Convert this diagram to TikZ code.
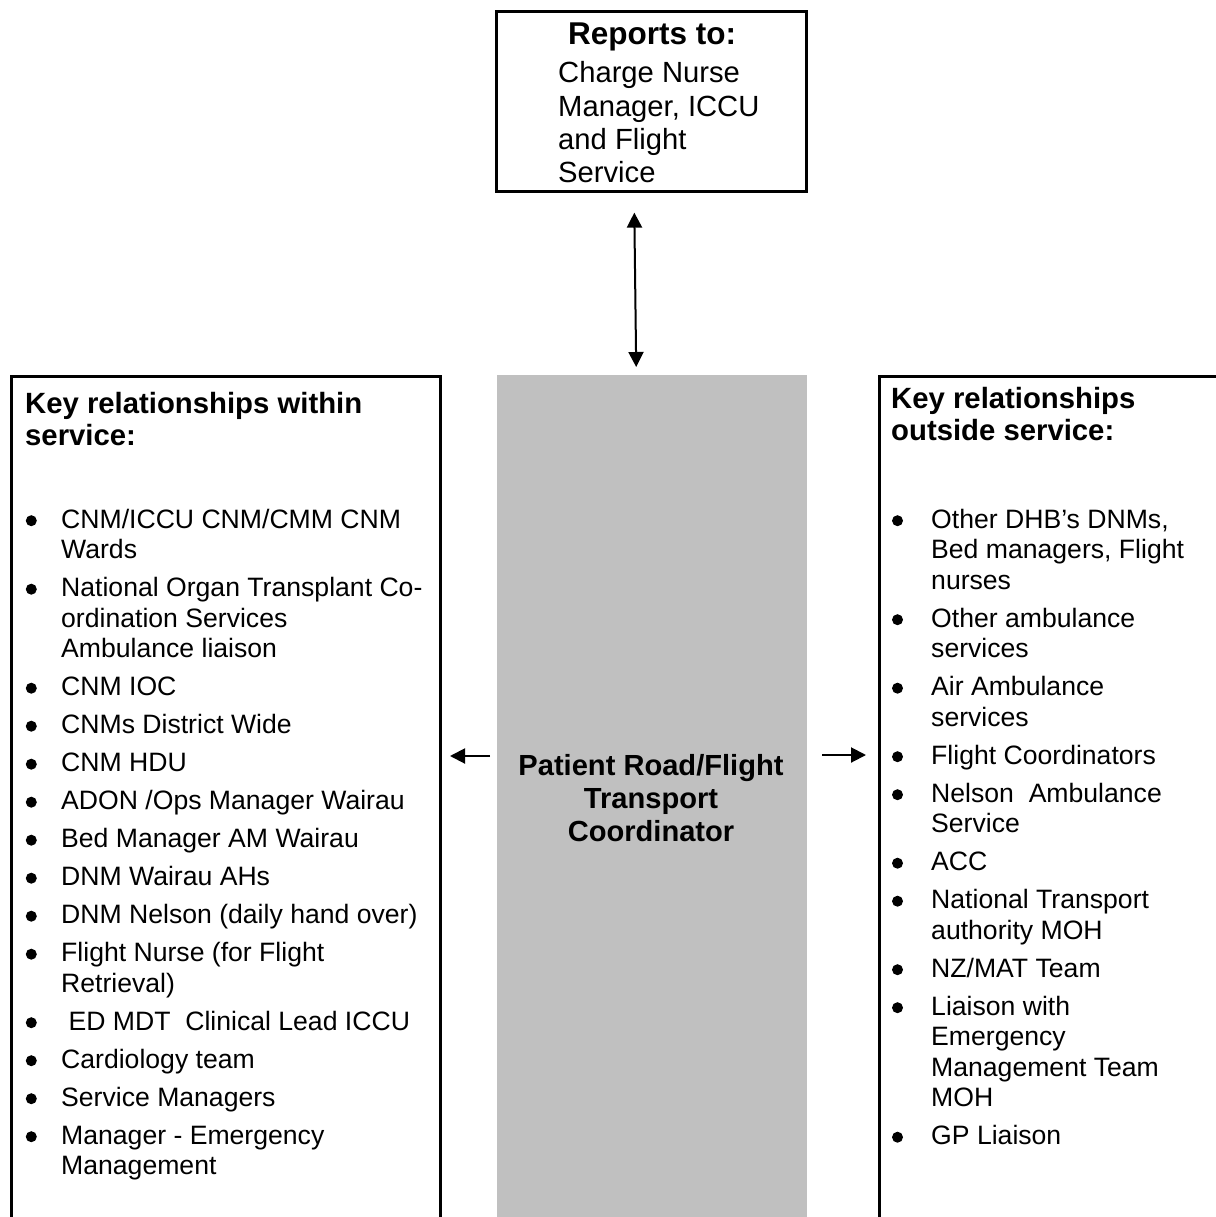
\documentclass[tikz,border=0pt]{standalone}
\usepackage{fontspec}
\setmainfont{Liberation Sans}
\usetikzlibrary{arrows.meta}
\newcommand{\leftlines}[1]{\begin{tabular}[t]{@{}l@{}}#1\end{tabular}}
\newcommand{\midlines}[1]{\begin{tabular}[t]{@{}c@{}}#1\end{tabular}}

\begin{document}
\begin{tikzpicture}[x=1pt, y=-1pt,
  boxline/.style={draw, line width=2.6pt, inner sep=0pt, anchor=north west},
  lines/.style={anchor=base west, inner sep=0pt},
  entry/.style={lines, font=\fontsize{26.6}{30.5}\selectfont},
  head/.style={lines, font=\bfseries\fontsize{29.3}{32.3}\selectfont},
  tip/.tip={Triangle[length=15pt, width=15pt]},
  arr/.style={line width=2pt, -tip},
  both/.style={line width=2pt, tip-tip}]
\useasboundingbox (0,0) rectangle (1215,1217);

% boxes
\node[boxline, minimum width=310pt, minimum height=180pt] (reports) at (495,10) {};
\node[inner sep=0pt, anchor=north west, fill={rgb,255:red,192;green,192;blue,192}, minimum width=310pt, minimum height=870pt] (coordbox) at (497,375) {};
\node[boxline, minimum width=429pt, minimum height=870pt] (within) at (10,375) {};
\node[boxline, minimum width=360pt, minimum height=870pt] (outside) at (878,375) {};

% reports to
\node[lines, font=\bfseries\fontsize{31.5}{34}\selectfont] (rephead) at (568,45) {Reports to:};
\node[lines, font=\fontsize{29.2}{33.3}\selectfont] (repbody) at (558,83) {\leftlines{Charge Nurse\\Manager, ICCU\\and Flight\\Service}};

% coordinator
\node[anchor=base, inner sep=0pt, font=\bfseries\fontsize{29.1}{33.3}\selectfont] (coordtxt) at (651,775) {\midlines{Patient Road/Flight\\Transport\\Coordinator}};

% within service
\node[head] (withinhead) at (25,413) {\leftlines{Key relationships within\\service:}};
\begin{scope}[every node/.style={entry}]
  \node (w1) at (61,528) {\leftlines{CNM/ICCU CNM/CMM CNM\\Wards}};
  \node (w2) at (61,596.5) {\leftlines{National Organ Transplant Co-\\ordination Services\\Ambulance liaison}};
  \node (w3) at (61,695.5) {CNM IOC};
  \node (w4) at (61,733.5) {CNMs District Wide};
  \node (w5) at (61,771.5) {CNM HDU};
  \node (w6) at (61,809.5) {ADON /Ops Manager Wairau};
  \node (w7) at (61,847.5) {Bed Manager AM Wairau};
  \node (w8) at (61,885.5) {DNM Wairau AHs};
  \node (w9) at (61,923.5) {DNM Nelson (daily hand over)};
  \node (w10) at (61,961.5) {\leftlines{Flight Nurse (for Flight\\Retrieval)}};
  \node (w11) at (61,1030) {\ ED MDT\ \ Clinical Lead ICCU};
  \node (w12) at (61,1068) {Cardiology team};
  \node (w13) at (61,1106) {Service Managers};
  \node (w14) at (61,1144) {\leftlines{Manager - Emergency\\Management}};
\end{scope}
\foreach \i in {1,...,14}
  \fill ([xshift=-29.7pt, yshift=7.3pt]w\i.base west) circle (5.5pt);

% outside service
\node[head] (outsidehead) at (891,408) {\leftlines{Key relationships\\outside service:}};
\begin{scope}[every node/.style={entry}]
  \node (o1) at (931,528) {\leftlines{Other DHB’s DNMs,\\Bed managers, Flight\\nurses}};
  \node (o2) at (931,627) {\leftlines{Other ambulance\\services}};
  \node (o3) at (931,695.5) {\leftlines{Air Ambulance\\services}};
  \node (o4) at (931,764) {Flight Coordinators};
  \node (o5) at (931,802) {\leftlines{Nelson\ \ Ambulance\\Service}};
  \node (o6) at (931,870.5) {ACC};
  \node (o7) at (931,908.5) {\leftlines{National Transport\\authority MOH}};
  \node (o8) at (931,977) {NZ/MAT Team};
  \node (o9) at (931,1015) {\leftlines{Liaison with\\Emergency\\Management Team\\MOH}};
  \node (o10) at (931,1144.5) {GP Liaison};
\end{scope}
\foreach \i in {1,...,10}
  \fill ([xshift=-33.5pt, yshift=7.3pt]o\i.base west) circle (5.5pt);

% arrows
\draw[both] ([xshift=-17pt, yshift=-20pt]reports.south) -- ([xshift=-16pt, yshift=8pt]coordbox.north);
\coordinate (ltail) at (490,756);
\coordinate (lhead) at (450,756);
\coordinate (rtail) at (822,755);
\coordinate (rhead) at (866,755);
\draw[arr] (ltail) -- (lhead);
\draw[arr] (rtail) -- (rhead);

\end{tikzpicture}
\end{document}
